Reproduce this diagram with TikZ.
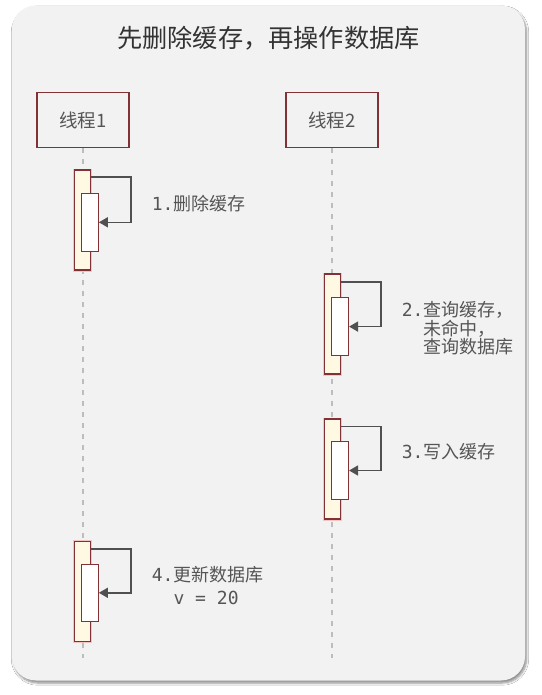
\documentclass[tikz,border=0pt]{standalone}
\usepackage{fontspec}
\setmainfont{Noto Sans CJK SC}
\setmonofont{DejaVu Sans Mono}
\usetikzlibrary{arrows.meta,shadows.blur,calc}
\definecolor{panelbg}{HTML}{F2F2F2}
\definecolor{darkred}{HTML}{823237}
\definecolor{actfill}{HTML}{FFF8E3}
\definecolor{arrowgray}{HTML}{505050}
\definecolor{lifegray}{HTML}{BDBDBD}
\definecolor{titlegray}{HTML}{333333}
\definecolor{labelgray}{HTML}{555555}
\definecolor{glowred}{HTML}{F3C4C4}
\tikzset{
  threadbox/.style={draw=darkred, line width=1.6pt, fill=panelbg, minimum width=92pt, minimum height=55pt, inner sep=0pt,
    font=\fontsize{18.5}{22}\selectfont, text=labelgray},
  lifeline/.style={draw=lifegray, line width=1.3pt, dash pattern=on 5pt off 6pt},
  actouter/.style={draw=darkred, line width=1.1pt, fill=actfill, minimum width=16pt, minimum height=100pt, inner sep=0pt,
    preaction={draw=glowred, line width=3pt}},
  actinner/.style={draw=darkred, line width=1.1pt, fill=white, minimum width=16.6pt, minimum height=57.5pt, inner sep=0pt},
  selfarrow/.style={draw=arrowgray, line width=1.5pt, -{Triangle[length=9pt,width=10pt]}},
  steplabel/.style={anchor=west, inner sep=0pt, align=left, text=labelgray, font=\fontsize{18}{18.5}\selectfont},
}
\begin{document}
\begin{tikzpicture}[x=1pt,y=-1pt]
\useasboundingbox (0,0) rectangle (541,695);
\fill[white] (0,0) rectangle (541,695);
% panel
\node[fill=panelbg, rounded corners=24pt, minimum width=513pt, minimum height=675pt, inner sep=0pt,
  blur shadow={shadow xshift=1.5pt, shadow yshift=-2.5pt, shadow blur steps=6, shadow opacity=45}]
  (panel) at (268.5,343) {};
\node[text=titlegray, font=\fontsize{25.2}{28}\selectfont] (title) at (268.5,38) {先删除缓存，再操作数据库};
% thread boxes
\node[threadbox] (t1) at (83,120) {线程1};
\node[threadbox] (t2) at (332,120) {线程2};
% lifelines
\coordinate (e1) at (83,658);
\coordinate (e2) at (332,658);
\draw[lifeline] (t1.south) -- (e1);
\draw[lifeline] (t2.south) -- (e2);
% activations thread 1
\node[actouter] (a1o) at (82.3,220) {};
\node[actinner] (a1i) at (90,222.3) {};
\node[actouter] (a4o) at (82.3,591.2) {};
\node[actinner] (a4i) at (90,592.8) {};
% activations thread 2
\node[actouter] (a2o) at (332.6,324) {};
\node[actinner] (a2i) at (340.2,326.6) {};
\node[actouter] (a3o) at (332.6,469) {};
\node[actinner] (a3i) at (340.2,470.5) {};
% self arrows
\draw[selfarrow] ([yshift=-7.5pt]a1o.north east) -- ++(40,0) |- (a1i.east);
\draw[selfarrow] ([yshift=-8.5pt]a2o.north east) -- ++(40,0) |- (a2i.east);
\draw[selfarrow] ([yshift=-8pt]a3o.north east) -- ++(40,0) |- (a3i.east);
\draw[selfarrow] ([yshift=-8.3pt]a4o.north east) -- ++(40,0) |- (a4i.east);
% labels
\node[steplabel] (l1) at (151.7,203.5) {{\ttfamily 1.}删除缓存};
\node[steplabel] (l2) at (401.7,328.5) {{\ttfamily 2.}查询缓存，\\\hphantom{\ttfamily 2.}未命中，\\\hphantom{\ttfamily 2.}查询数据库};
\node[steplabel] (l3) at (401.7,451.7) {{\ttfamily 3.}写入缓存};
\node[steplabel] (l4) at (151.7,585.8) {{\ttfamily 4.}更新数据库\\[4.5pt]\hphantom{\ttfamily 4.}{\ttfamily v = 20}};
\end{tikzpicture}
\end{document}
